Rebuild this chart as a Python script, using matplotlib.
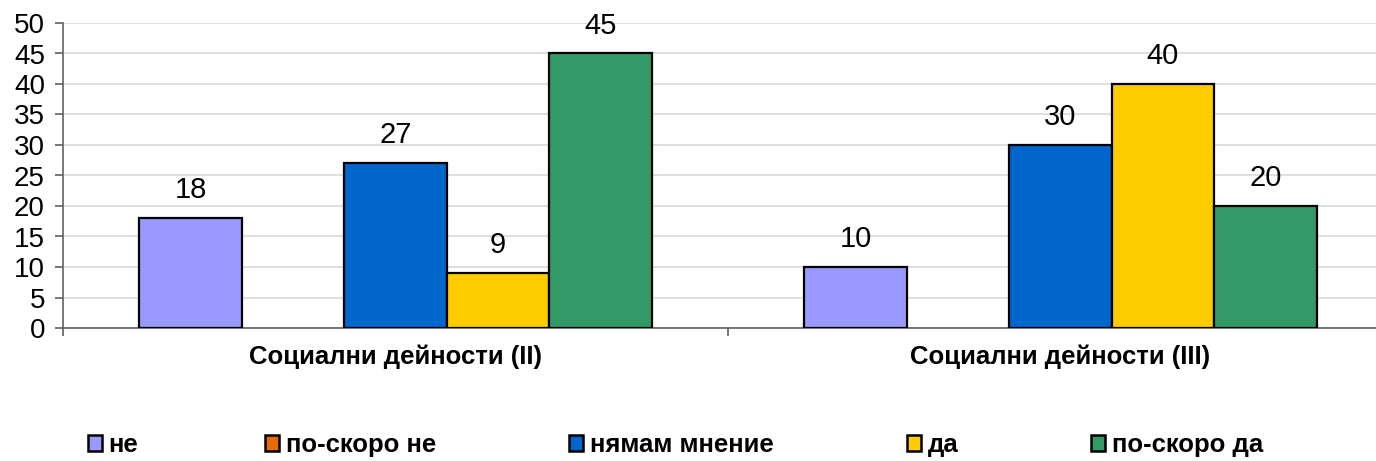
import matplotlib
matplotlib.use("Agg")
import matplotlib.pyplot as plt
from matplotlib.patches import Patch
import numpy as np

plt.rcParams['font.family'] = ['Liberation Sans', 'DejaVu Sans']

categories = ["Социални дейности (II)", "Социални дейности (III)"]
series = ["не", "по-скоро не", "нямам мнение", "да", "по-скоро да"]
values = {
    "не": [18, 10],
    "по-скоро не": [0, 0],
    "нямам мнение": [27, 30],
    "да": [9, 40],
    "по-скоро да": [45, 20],
}
colors = ["#9999FF", "#E36C09", "#0066CC", "#FFCC00", "#339966"]

W, H = 1376, 461
fig = plt.figure(figsize=(W / 100, H / 100), dpi=100)
ax = fig.add_axes([63 / W, 133 / H, (W - 63) / W, 305 / H])

x = np.arange(len(categories))
bw = 0.154
for i, (s, c) in enumerate(zip(series, colors)):
    vals = values[s]
    bars = ax.bar(x + (i - 2) * bw, vals, bw, color=c, edgecolor='black',
                  linewidth=1.6, zorder=3)
    for b, v in zip(bars, vals):
        if v > 0:
            ax.annotate(str(v), (b.get_x() + b.get_width() / 2, v),
                        xytext=(0, 10), textcoords='offset points',
                        ha='center', va='bottom', fontsize=21, color='black')
        else:
            b.set_linewidth(0)

ax.set_yticks(np.arange(0, 51, 5))
ax.yaxis.grid(True, color='#D9D9D9', linewidth=1.2, zorder=0)
ax.set_axisbelow(True)

ax.set_xticks([-0.5, 0.5])
ax.set_xticklabels([])
ax.set_xticks(x, minor=True)
ax.set_xticklabels(categories, minor=True, fontsize=18.5, fontweight='bold')
ax.tick_params(axis='x', which='minor', length=0, pad=12)
ax.tick_params(axis='x', which='major', length=6, color='#606060', width=1.2)
ax.tick_params(axis='y', length=6, color='#606060', width=1.2, labelsize=20, pad=7)

ax.set_xlim(-0.5, 1.5 - 17 / 665)
ax.set_ylim(0, 50)

for sp in ['top', 'right']:
    ax.spines[sp].set_visible(False)
for sp in ['left', 'bottom']:
    ax.spines[sp].set_color('#606060')
    ax.spines[sp].set_linewidth(1.2)

legend_x = [88, 265, 569, 907, 1091]
for s, c, lx in zip(series, colors, legend_x):
    h = Patch(facecolor=c, edgecolor='black', linewidth=1.8)
    fig.legend(handles=[h], labels=[s], loc='center left',
               bbox_to_anchor=(lx / W, 1 - 445 / H), frameon=False,
               borderpad=0, borderaxespad=0, handlelength=0.55, handleheight=0.55,
               handletextpad=0.25, prop={'size': 18.5, 'weight': 'bold'})

fig.savefig("out.png", dpi=100)
